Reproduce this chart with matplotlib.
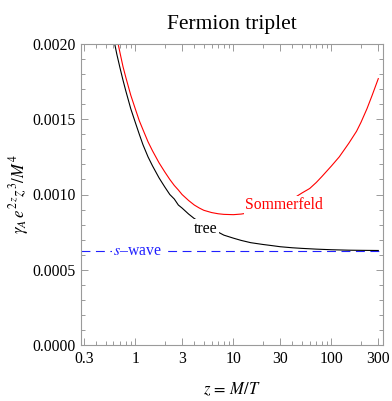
import numpy as np
import matplotlib
matplotlib.use("Agg")
import matplotlib.pyplot as plt
from matplotlib.ticker import FixedLocator, NullFormatter

plt.rcParams['font.family'] = ['Liberation Serif', 'DejaVu Serif']
plt.rcParams['mathtext.fontset'] = 'stix'

# ---- data ----
z_tree = [0.55, 0.6, 0.65, 0.7, 0.75, 0.8, 0.9, 1.0, 1.1, 1.2, 1.35, 1.5, 1.75, 2, 2.25, 2.5, 2.75, 3,
          3.5, 4, 4.5, 5, 6, 7, 8, 10, 12, 15, 20, 25, 30, 40, 50, 70, 100, 150, 200, 300]
y_tree = [0.00217, 0.00204, 0.00193, 0.00184, 0.00176, 0.00169, 0.00157, 0.00148, 0.00140, 0.00133,
          0.00125, 0.00119, 0.00111, 0.00105, 0.00100, 0.00097, 0.00093, 0.00091, 0.00087, 0.00084,
          0.00082, 0.00080, 0.00077, 0.00075, 0.00073, 0.00071, 0.000695, 0.00068, 0.000668, 0.00066,
          0.000653, 0.000646, 0.000642, 0.000637, 0.000633, 0.00063, 0.000629, 0.000628]

z_som = [0.6, 0.65, 0.7, 0.75, 0.8, 0.9, 1.0, 1.1, 1.2, 1.35, 1.5, 1.75, 2, 2.25, 2.5, 2.75, 3, 3.5, 4,
         4.5, 5, 6, 7, 8, 10, 12, 15, 20, 25, 30, 40, 50, 60, 70, 80, 100, 120, 150, 180, 200, 230, 260, 300]
y_som = [0.00215, 0.00204, 0.00194, 0.00185, 0.00178, 0.00166, 0.00157, 0.00149, 0.00143, 0.00135,
         0.00129, 0.00121, 0.00115, 0.00110, 0.00106, 0.00103, 0.00100, 0.00096, 0.00093, 0.00091,
         0.000895, 0.00088, 0.000872, 0.000868, 0.000866, 0.00087, 0.00088, 0.000895, 0.00091, 0.00093,
         0.00097, 0.00101, 0.00104, 0.00108, 0.00112, 0.00119, 0.00125, 0.00134, 0.00142, 0.00148,
         0.00157, 0.00166, 0.00177]

s_wave = 0.000625

x_ticks = [0.3, 1, 3, 10, 30, 100, 300]
x_ticklabels = ["0.3", "1", "3", "10", "30", "100", "300"]
x_minor = [0.4, 0.5, 0.6, 0.7, 0.8, 0.9, 2, 4, 5, 6, 7, 8, 9, 20, 40, 50, 60, 70, 80, 90, 200]
y_ticks = [0.0, 0.0005, 0.0010, 0.0015, 0.0020]
y_ticklabels = ["0.0000", "0.0005", "0.0010", "0.0015", "0.0020"]
y_minor = [0.0001, 0.0002, 0.0003, 0.0004, 0.0006, 0.0007, 0.0008, 0.0009,
           0.0011, 0.0012, 0.0013, 0.0014, 0.0016, 0.0017, 0.0018, 0.0019]

fig = plt.figure(figsize=(3.92, 4.01), dpi=100)
ax = fig.add_axes([81/392, 1-345/401, (383-81)/392, (345-44)/401])

ax.set_xscale('log')
ax.set_xlim(0.28, 335)
ax.set_ylim(0, 0.0020)

ax.axhline(s_wave, color='#2020ff', lw=0.8, dashes=(8, 5))
ax.plot(z_som, y_som, color='#ff0000', lw=0.8)
ax.plot(z_tree, y_tree, color='black', lw=0.8)

bb = dict(facecolor='white', edgecolor='none', pad=1.0)
ax.text(33, 0.000927, "Sommerfeld", color='#ff0000', fontsize=11.3, ha='center', va='center', bbox=bb)
ax.text(5.2, 0.000773, "tree", color='black', fontsize=11.3, ha='center', va='center', bbox=bb)
ax.text(1.05, s_wave, "$s$\u2013wave", color='#2020ff', fontsize=11.3, ha='center', va='center', bbox=bb)

ax.xaxis.set_major_locator(FixedLocator(x_ticks))
ax.set_xticklabels(x_ticklabels)
ax.xaxis.set_minor_locator(FixedLocator(x_minor))
ax.xaxis.set_minor_formatter(NullFormatter())
ax.yaxis.set_major_locator(FixedLocator(y_ticks))
ax.set_yticklabels(y_ticklabels)
ax.yaxis.set_minor_locator(FixedLocator(y_minor))

frame_col = '#9a9a9a'
for s in ax.spines.values():
    s.set_color(frame_col)
    s.set_linewidth(0.8)
ax.tick_params(which='both', direction='in', top=True, right=True, color=frame_col,
               labelsize=11.3, labelcolor='black', width=0.7)
ax.tick_params(which='major', length=5, pad=4)
ax.tick_params(which='minor', length=3)

ax.set_xlabel("$z\\,=\\,M/T$", fontsize=12, labelpad=10)
ax.set_ylabel("$\\gamma_A\\, e^{2\\,z} z^3/M^4$", fontsize=12, labelpad=1)
ax.set_title("Fermion triplet", fontsize=15.5, pad=11)

fig.savefig("out.png", dpi=100)
